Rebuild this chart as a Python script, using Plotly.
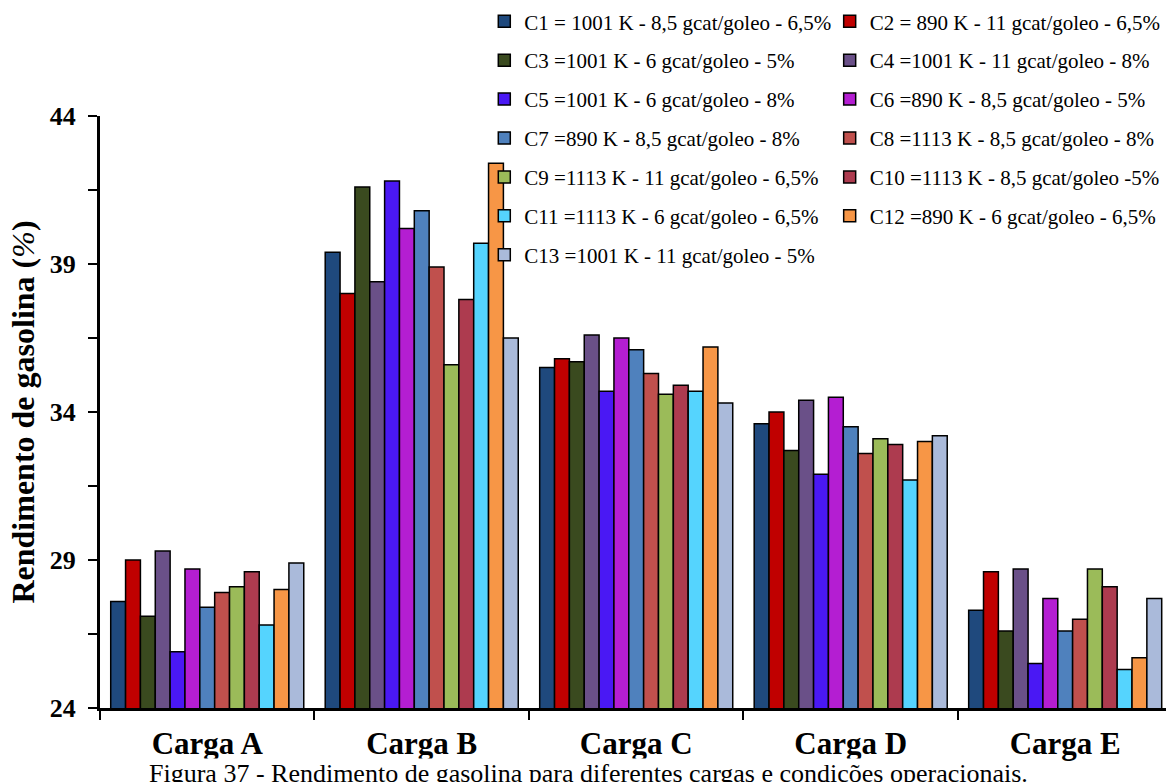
import plotly.graph_objects as go

# Feed loads on the category axis
cargas = ["Carga A", "Carga B", "Carga C", "Carga D", "Carga E"]

# Operating conditions (temperature - catalyst/oil ratio - steam)
condicoes = [
    "C1 = 1001 K - 8,5 gcat/goleo - 6,5%",
    "C2 = 890 K - 11 gcat/goleo - 6,5%",
    "C3 =1001 K - 6 gcat/goleo - 5%",
    "C4 =1001 K - 11 gcat/goleo - 8%",
    "C5 =1001 K - 6 gcat/goleo - 8%",
    "C6 =890 K - 8,5 gcat/goleo - 5%",
    "C7 =890 K - 8,5 gcat/goleo - 8%",
    "C8 =1113 K - 8,5 gcat/goleo - 8%",
    "C9 =1113 K - 11 gcat/goleo - 6,5%",
    "C10 =1113 K - 8,5 gcat/goleo -5%",
    "C11 =1113 K - 6 gcat/goleo - 6,5%",
    "C12 =890 K - 6 gcat/goleo - 6,5%",
    "C13 =1001 K - 11 gcat/goleo - 5%",
]

# Gasoline yield (%) per condition, one value per load (A..E)
c1 = [27.6, 39.4, 35.5, 33.6, 27.3]
c2 = [29.0, 38.0, 35.8, 34.0, 28.6]
c3 = [27.1, 41.6, 35.7, 32.7, 26.6]
c4 = [29.3, 38.4, 36.6, 34.4, 28.7]
c5 = [25.9, 41.8, 34.7, 31.9, 25.5]
c6 = [28.7, 40.2, 36.5, 34.5, 27.7]
c7 = [27.4, 40.8, 36.1, 33.5, 26.6]
c8 = [27.9, 38.9, 35.3, 32.6, 27.0]
c9 = [28.1, 35.6, 34.6, 33.1, 28.7]
c10 = [28.6, 37.8, 34.9, 32.9, 28.1]
c11 = [26.8, 39.7, 34.7, 31.7, 25.3]
c12 = [28.0, 42.4, 36.2, 33.0, 25.7]
c13 = [28.9, 36.5, 34.3, 33.2, 27.7]

series = [c1, c2, c3, c4, c5, c6, c7, c8, c9, c10, c11, c12, c13]

cores = [
    "#1F497D", "#C00000", "#3A4A1F", "#6A5088", "#4A18F4",
    "#B41ED2", "#4F81BD", "#C0504D", "#9BBB59", "#AD3B4F",
    "#55D4FE", "#F79646", "#AABADA",
]

SERIF = "Liberation Serif, Times New Roman, serif"

fig = go.Figure()
for i, (nome, vals, cor) in enumerate(zip(condicoes, series, cores)):
    fig.add_trace(go.Bar(
        x=cargas, y=vals, name=nome,
        marker=dict(color=cor, line=dict(color="black", width=1.5)),
        legend="legend" if i % 2 == 0 else "legend2",
        legendgroup=nome,
    ))

legend_common = dict(
    orientation="v",
    yanchor="top", y=1.194,
    xanchor="left",
    bgcolor="rgba(0,0,0,0)",
    font=dict(family=SERIF, size=21, color="black"),
    traceorder="grouped",
    tracegroupgap=8.6,
    itemclick=False, itemdoubleclick=False,
)

fig.update_layout(
    width=1166, height=782,
    margin=dict(l=100, r=0, t=116, b=74),
    paper_bgcolor="white", plot_bgcolor="white",
    barmode="group", bargap=0.1, bargroupgap=0,
    font=dict(family=SERIF, color="black"),
    legend=dict(legend_common, x=0.3605),
    legend2=dict(legend_common, x=0.6845),
    xaxis=dict(
        range=[-0.5, 4.47],
        showline=True, linecolor="black", linewidth=3,
        ticks="outside", tickson="boundaries", ticklen=9, tickwidth=2, tickcolor="black",
        tickfont=dict(family=SERIF, size=31, color="black"),
        ticklabelstandoff=6,
        showgrid=False,
    ),
    yaxis=dict(
        range=[24, 44], tick0=24, dtick=5,
        showline=True, linecolor="black", linewidth=3,
        ticks="outside", ticklen=9, tickwidth=2, tickcolor="black",
        minor=dict(dtick=2.5, tick0=24, ticks="outside", ticklen=9, tickwidth=2, tickcolor="black"),
        tickfont=dict(family=SERIF, size=26, color="black"),
        ticklabelstandoff=7,
        showgrid=False, zeroline=False,
        title=dict(text="<b>Rendimento de gasolina (</b><i>%</i><b>)</b>",
                   font=dict(family=SERIF, size=32, color="black"), standoff=6),
    ),
)

fig.update_xaxes(tickprefix="<b>", ticksuffix="</b>")
fig.update_yaxes(tickprefix="<b>", ticksuffix="</b>")

fig.add_annotation(
    text="Figura 37 - Rendimento de gasolina para diferentes cargas e condições operacionais.",
    xref="paper", yref="paper", x=0.458, y=-0.084,
    xanchor="center", yanchor="top", showarrow=False,
    bgcolor="white", borderpad=0,
    font=dict(family=SERIF, size=26, color="black"),
)

fig.write_html("out.html")
